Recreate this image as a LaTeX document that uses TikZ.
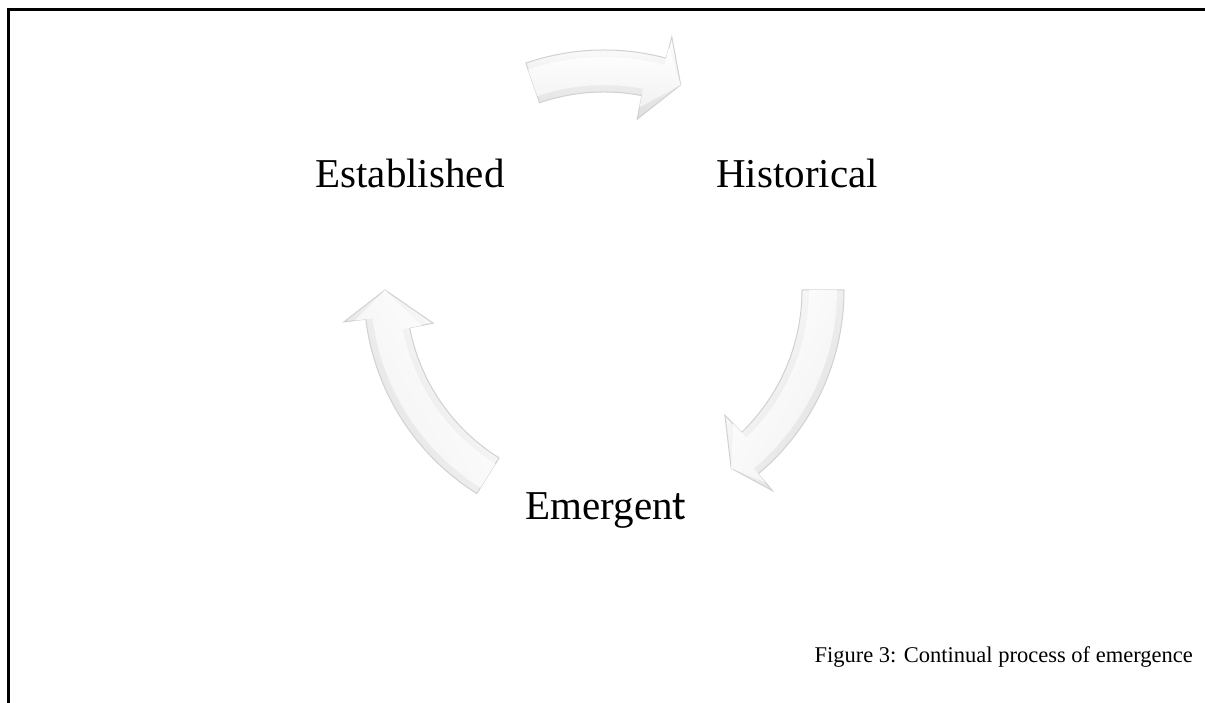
\documentclass[tikz,border=0pt]{standalone}
\usepackage{fontspec}
\setmainfont{Liberation Serif}
\newfontfamily\tfont{Carlito}
\usetikzlibrary{calc}
\tikzset{
  cycshadow/.style={fill=black!6, draw=none},
  cycbody/.style={draw=black!18, line width=1pt, top color=white, bottom color=black!13, shading angle=#1},
  cyctop/.style={draw=none, top color=white, bottom color=black!5, shading angle=#1},
  lbl/.style={font=\fontsize{41}{41}\selectfont, anchor=base, inner sep=0pt},
  captext/.style={font=\fontsize{22.5}{23}\selectfont, anchor=base east, inner sep=0pt},
}
\newcommand\cyclearrowpath[8]{%
  ($(C)+(#1:#5)$) arc[start angle=#1, end angle={#2-2}, radius=#5]
  -- ($(C)+({#2-2}:#6)$) -- ($(C)+(#3:219)$) -- ($(C)+({#2+2}:#7)$)
  -- ($(C)+({#2+2}:#8)$) arc[start angle={#2+2}, end angle=#1, radius=#8] -- cycle}
\newcommand\cyclearrow[4]{%
  \path[cycshadow, shift={(2,-3)}] \cyclearrowpath{#1}{#2}{#3}{#4}{240}{262}{174}{198};
  \path[cycbody=#4] \cyclearrowpath{#1}{#2}{#3}{#4}{240}{262}{174}{198};
  \path[cyctop=#4] \cyclearrowpath{#1}{#2}{#3}{#4}{233}{251}{186}{205};
}
\begin{document}
\begin{tikzpicture}[x=1pt,y=1pt]
\useasboundingbox (0,0) rectangle (1205,703);
\coordinate (C) at (604,413);
\coordinate (B1) at (8,0);
\coordinate (B2) at (8,693);
\coordinate (B3) at (1205,693);
\draw[line width=3pt] (B1) -- (B2) -- (B3);
% arrows
\cyclearrow{109}{77}{69.5}{0}
\cyclearrow{0}{-48}{-54.5}{60}
\cyclearrow{238}{189}{180}{-60}
% labels
\node[lbl] (est) at (410,515) {Established};
\node[lbl] (his) at (797,515) {Historical};
\node[lbl] (eme) at (606,183) {Emergen{\tfont t}};
\node[captext] (capt) at (1193,40) {Figure 3: Continual process of emergence};
\end{tikzpicture}
\end{document}
